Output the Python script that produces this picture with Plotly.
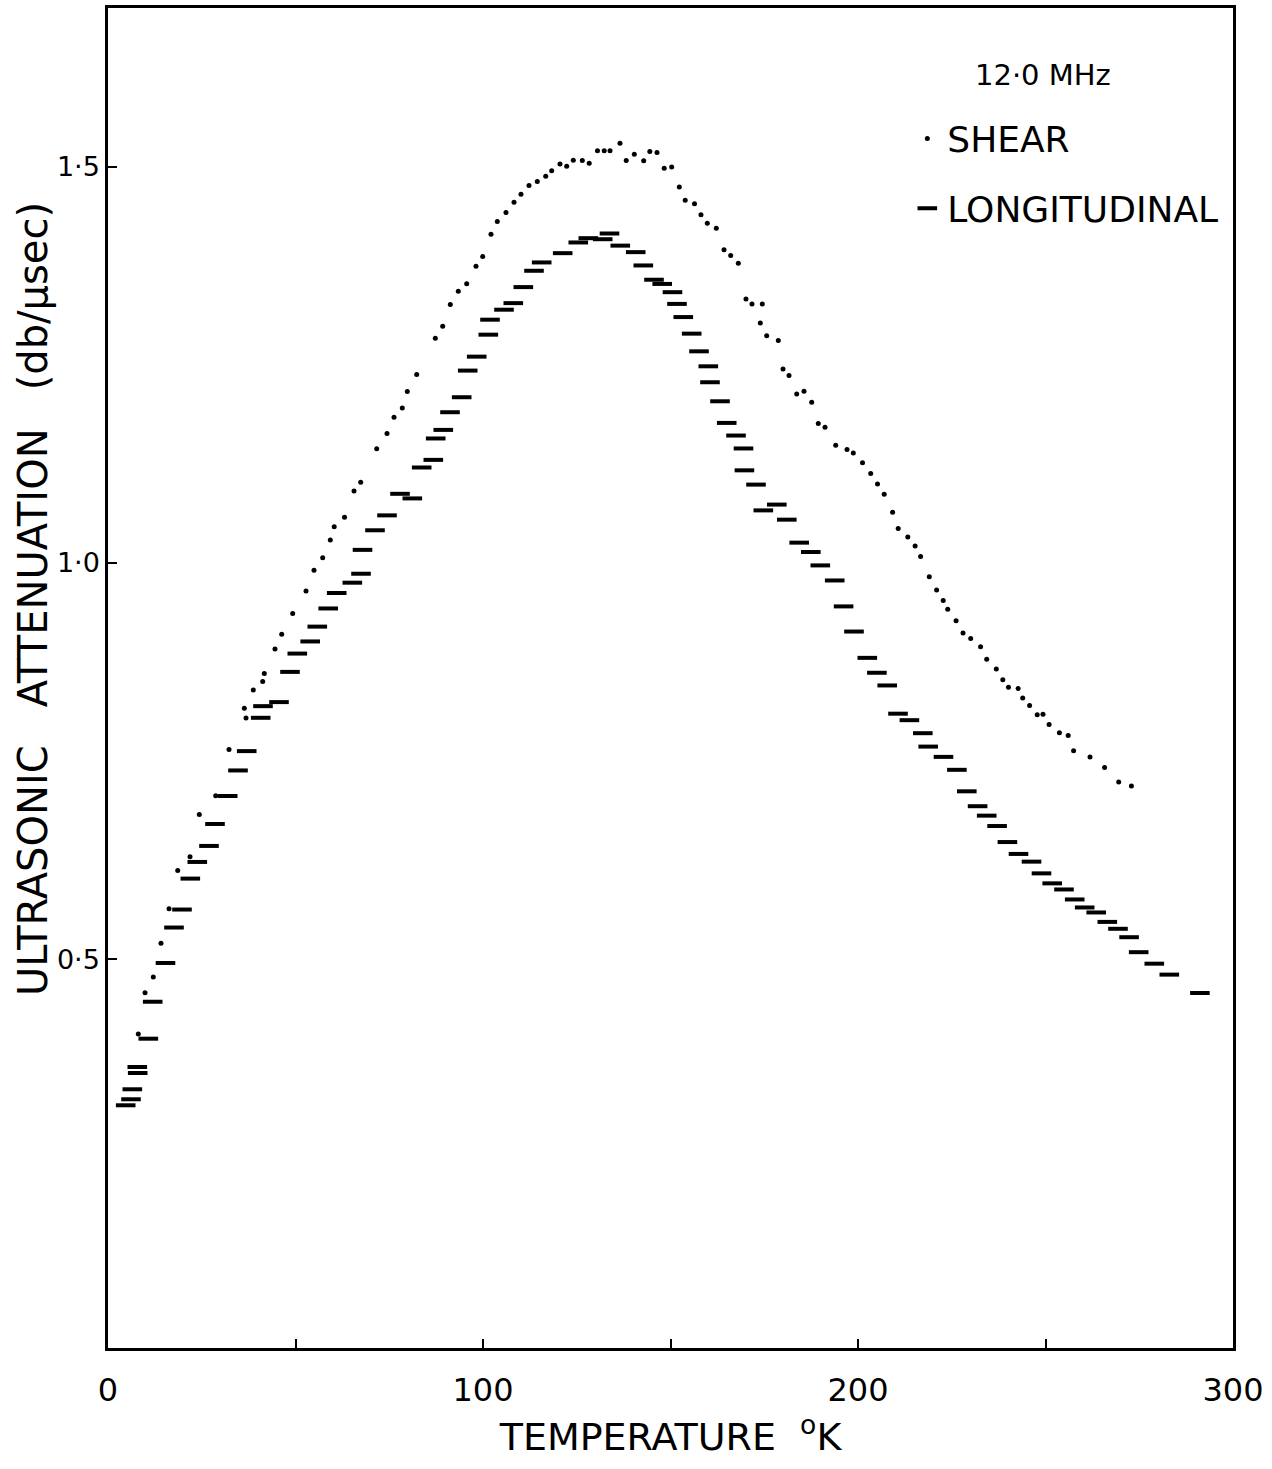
import plotly.graph_objects as go

# Shear wave attenuation (dots)
shear_T = [8.08, 9.87, 12.08, 14.13, 16.27, 18.59, 21.87, 24.35, 28.72, 32.27,
           36.35, 36.8, 38.75, 41.25, 41.68, 44.53, 46.32, 49.25, 52.8, 54.93,
           57.25, 59.28, 60.32, 63.07, 65.6, 67.39, 71.65, 74.4, 76.27, 78.48,
           79.81, 82.32, 87.28, 89.25, 91.28, 93.41, 95.65, 98.13, 99.92, 102.13,
           103.81, 106.13, 108.27, 110.13, 112.27, 114.48, 116.72, 118.32, 120.53, 122.32,
           124.08, 126.48, 128.32, 130.53, 132.32, 133.87, 136.53, 138.19, 140.35, 142.85,
           144.48, 146.4, 148.32, 150.32, 152.35, 153.92, 156.4, 158.13, 159.81, 162.21,
           164.27, 166.05, 168.08, 170.13, 171.73, 173.95, 174.48, 175.65, 178.75, 180.0,
           181.6, 183.65, 185.6, 187.65, 189.41, 191.2, 194.05, 197.07, 198.75, 201.2,
           203.39, 205.2, 206.99, 209.23, 210.72, 213.28, 215.23, 216.69, 219.01, 220.96,
           222.72, 223.92, 226.16, 228.0, 230.05, 232.69, 234.32, 236.88, 238.61, 240.13,
           242.69, 243.92, 245.76, 247.79, 249.33, 250.96, 253.71, 256.05, 257.49, 261.87,
           265.76, 269.52, 272.91]
shear_A = [0.406, 0.458, 0.478, 0.5205, 0.5639, 0.6121, 0.6297, 0.683, 0.7065, 0.7649,
           0.817, 0.8044, 0.840, 0.8505, 0.8606, 0.8917, 0.9102, 0.9364, 0.9647, 0.9908,
           1.0067, 1.029, 1.0458, 1.0576, 1.0907, 1.102, 1.144, 1.1633, 1.1839, 1.1956,
           1.2162, 1.2377, 1.2834, 1.2985, 1.3262, 1.3429, 1.3523, 1.3744, 1.3866, 1.4147,
           1.4307, 1.4421, 1.455, 1.4651, 1.4761, 1.4811, 1.4878, 1.4946, 1.5034, 1.5004,
           1.5079, 1.5078, 1.5042, 1.5199, 1.5199, 1.5199, 1.5293, 1.5078, 1.5155, 1.5072,
           1.5189, 1.5179, 1.4979, 1.4996, 1.4744, 1.4576, 1.4531, 1.4392, 1.4286, 1.4223,
           1.3951, 1.3879, 1.3782, 1.3329, 1.3266, 1.3026, 1.3266, 1.2868, 1.2805, 1.2447,
           1.2364, 1.2132, 1.2166, 1.2028, 1.1759, 1.1713, 1.1486, 1.1432, 1.1389, 1.1264,
           1.113, 1.0997, 1.0866, 1.0642, 1.0437, 1.0329, 1.0214, 1.0081, 0.9827, 0.966,
           0.9528, 0.9416, 0.9271, 0.9117, 0.9049, 0.8943, 0.8785, 0.8664, 0.8529, 0.8432,
           0.8418, 0.8297, 0.8202, 0.8086, 0.8094, 0.7965, 0.7859, 0.7825, 0.7632, 0.7555,
           0.7421, 0.7237, 0.7189]

# Longitudinal wave attenuation (dashes)
long_T = [4.72, 6.13, 6.48, 7.81, 7.92, 10.75, 11.92, 15.33, 17.6, 19.73,
          21.95, 23.81, 26.93, 28.53, 31.92, 34.67, 36.99, 40.72, 41.33, 45.6,
          48.53, 50.48, 53.92, 55.81, 58.72, 60.99, 65.15, 67.47, 67.87, 71.2,
          74.4, 77.87, 81.15, 83.65, 86.75, 87.39, 89.41, 91.2, 94.32, 95.92,
          98.32, 101.41, 101.87, 105.6, 108.08, 110.75, 113.6, 115.65, 121.25, 125.41,
          128.08, 131.92, 133.73, 136.61, 140.72, 142.75, 145.6, 147.79, 150.53, 151.73,
          153.41, 155.65, 157.6, 160.08, 160.53, 163.2, 164.99, 167.47, 169.47, 169.71,
          172.8, 174.75, 178.35, 181.01, 184.32, 187.41, 189.95, 193.79, 196.16, 198.93,
          202.48, 205.04, 207.79, 210.67, 213.71, 217.28, 218.72, 222.8, 226.37, 229.01,
          231.89, 234.32, 237.09, 239.84, 242.8, 246.27, 248.93, 251.79, 254.93, 257.79,
          260.45, 263.52, 266.48, 269.33, 272.29, 274.85, 279.01, 283.01, 291.17]
long_A = [0.3161, 0.3237, 0.3363, 0.3644, 0.3568, 0.4001, 0.4467, 0.4956, 0.5403, 0.563,
          0.602, 0.623, 0.6432, 0.6709, 0.7062, 0.7384, 0.7628, 0.8048, 0.8195, 0.8246,
          0.8627, 0.8858, 0.9011, 0.9198, 0.9427, 0.9622, 0.9752, 0.9865, 1.0166, 1.0413,
          1.0601, 1.0873, 1.0815, 1.1205, 1.1301, 1.1571, 1.1679, 1.1902, 1.2091, 1.2427,
          1.2603, 1.288, 1.3069, 1.3195, 1.3278, 1.348, 1.3686, 1.3791, 1.3908, 1.4043,
          1.4097, 1.4084, 1.4156, 1.4003, 1.3921, 1.3753, 1.3573, 1.352, 1.3416, 1.3268,
          1.3102, 1.2893, 1.267, 1.2481, 1.228, 1.204, 1.1767, 1.1608, 1.1445, 1.1169,
          1.0989, 1.0664, 1.0737, 1.0547, 1.0257, 1.0139, 0.997, 0.978, 0.9453, 0.9136,
          0.8804, 0.8616, 0.8456, 0.81, 0.8018, 0.7854, 0.7685, 0.7555, 0.7392, 0.7121,
          0.6933, 0.6814, 0.6683, 0.6481, 0.6331, 0.6234, 0.6086, 0.596, 0.5883, 0.5757,
          0.5656, 0.5593, 0.5474, 0.5387, 0.5281, 0.5092, 0.4947, 0.4809, 0.4577]

x_tickvals = [0, 100, 200, 300]
x_ticktext = ["0", "100", "200", "300"]
y_tickvals = [0.5, 1.0, 1.5]
y_ticktext = ["0·5", "1·0", "1·5"]

FONT = "DejaVu Sans"
NB = "\u00a0"

fig = go.Figure()
fig.add_trace(go.Scatter(
    x=shear_T, y=shear_A, mode="markers", name="SHEAR",
    legendgroup="a",
    marker=dict(symbol="circle", size=5, color="black"),
))
fig.add_trace(go.Scatter(
    x=long_T, y=long_A, mode="markers", name="LONGITUDINAL",
    legendgroup="b",
    marker=dict(symbol="line-ew", size=14, color="black",
                line=dict(width=4, color="black")),
))

fig.update_layout(
    width=1272, height=1469,
    margin=dict(l=108, r=39, t=5, b=121),
    plot_bgcolor="white", paper_bgcolor="white",
    font=dict(family=FONT, color="black"),
    showlegend=True,
    legend=dict(
        x=0.7105, y=0.925, xanchor="left", yanchor="top",
        font=dict(size=36, family=FONT, color="black"),
        bgcolor="rgba(0,0,0,0)", borderwidth=0,
        traceorder="grouped", tracegroupgap=20,
    ),
    annotations=[
        dict(text="12·0 MHz", x=0.831, y=0.950, xref="paper", yref="paper",
             xanchor="center", yanchor="middle", showarrow=False,
             font=dict(size=29, family=FONT, color="black")),
        dict(text="ULTRASONIC" + NB * 3 + "ATTENUATION" + NB * 3 + "(db/μsec)",
             x=-0.0667, y=0.559, xref="paper", yref="paper", textangle=-90,
             xanchor="center", yanchor="middle", showarrow=False,
             font=dict(size=40, family=FONT, color="black")),
    ],
)

fig.update_xaxes(
    range=[0, 300], tickmode="array", tickvals=x_tickvals, ticktext=x_ticktext,
    ticks="inside", ticklen=9, tickwidth=2, tickcolor="black",
    minor=dict(ticks="inside", dtick=50, tick0=0, ticklen=9, tickwidth=2,
               tickcolor="black", showgrid=False),
    showline=True, linewidth=2.5, linecolor="black", mirror=True,
    showgrid=False, zeroline=False,
    tickfont=dict(size=32, family=FONT, color="black"),
    ticklabelstandoff=12,
    title=dict(text="TEMPERATURE" + NB * 2 + "<sup>o</sup>K",
               font=dict(size=38, family=FONT, color="black"), standoff=8),
)
fig.update_yaxes(
    range=[0.01, 1.70], tickmode="array", tickvals=y_tickvals, ticktext=y_ticktext,
    ticks="inside", ticklen=9, tickwidth=2, tickcolor="black",
    showline=True, linewidth=2.5, linecolor="black", mirror=True,
    showgrid=False, zeroline=False,
    tickfont=dict(size=27, family=FONT, color="black"),
    ticklabelstandoff=0,
)

fig.write_html("out.html", config={"displayModeBar": False},
               post_script="document.body.style.margin='0';")
